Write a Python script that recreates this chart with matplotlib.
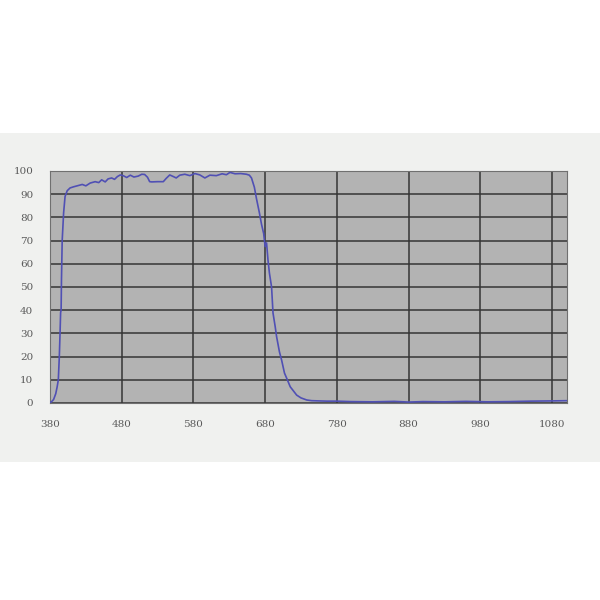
import numpy as np
import matplotlib.pyplot as plt

# transmission curve (wavelength in nm, %)
wavelength = [380, 382, 385, 388, 390, 391.6, 393, 394, 394.8, 395.5, 396, 397,
              399, 401, 404, 408, 413, 419, 425, 430, 436, 443, 448, 452, 457,
              461, 466, 470, 474, 478, 482, 487, 492, 497, 503, 508, 512, 516,
              519, 522, 530, 538, 542, 547, 552, 556, 561, 568, 575, 582, 589,
              596, 603, 612, 620, 626, 631, 638, 646, 654, 658, 661, 665, 668,
              672, 675, 678, 680, 682, 684, 686, 689, 691, 694, 696, 700, 703,
              707, 711, 715, 720, 724, 730, 738, 745, 755, 766, 780, 800, 830,
              860, 880, 900, 930, 960, 990, 1020, 1050, 1080, 1100]
transmission = [0.3, 0.5, 1.5, 4, 7, 10, 20, 30, 39, 40, 53, 70, 82, 89, 91.5,
                92.7, 93.2, 93.7, 94.2, 93.6, 94.8, 95.4, 95.0, 96.2, 95.3, 96.6,
                97.0, 96.4, 97.6, 98.3, 98.0, 97.2, 98.2, 97.4, 97.8, 98.6, 98.5,
                97.3, 95.4, 95.3, 95.4, 95.4, 96.8, 98.3, 97.6, 97.0, 98.2, 98.6,
                98.0, 98.9, 98.3, 97.0, 98.2, 98.0, 98.8, 98.4, 99.4, 98.8, 98.9,
                98.6, 98.2, 97.0, 93, 88, 82, 77, 73, 67.4, 69, 61.6, 56, 50,
                38.8, 33, 28.6, 22, 18.5, 12.9, 10, 7, 5, 3.4, 2.2, 1.3, 1.0, 0.9,
                0.8, 0.8, 0.6, 0.5, 0.7, 0.4, 0.6, 0.5, 0.7, 0.5, 0.6, 0.8, 0.9, 1.0]

xticks = [380, 480, 580, 680, 780, 880, 980, 1080]
yticks = [0, 10, 20, 30, 40, 50, 60, 70, 80, 90, 100]

fig = plt.figure(figsize=(6, 6), dpi=100)
fig.patch.set_facecolor('white')

# light panel behind the chart
panel = plt.Rectangle((0, (600 - 462)/600), 1, (462 - 133)/600,
                      transform=fig.transFigure, facecolor='#f0f1ef',
                      edgecolor='none', zorder=-10)
fig.add_artist(panel)

ax = fig.add_axes([50/600, (600 - 403)/600, 517/600, 232/600])
ax.set_zorder(1)
ax.set_facecolor('#b3b3b3')

ax.plot(wavelength, transmission, color='#5050b4', linewidth=1.2, zorder=3)

ax.set_xlim(380, 1101)
ax.set_ylim(0, 100)
ax.set_xticks(xticks)
ax.set_yticks(yticks)
ax.grid(True, color='#353535', linewidth=1.1)
ax.set_axisbelow(True)
ax.tick_params(length=0, labelsize=7.5, labelcolor='#5a5a5a')
ax.tick_params(axis='x', pad=12)
ax.tick_params(axis='y', pad=12)
for lab in ax.get_xticklabels() + ax.get_yticklabels():
    lab.set_family('DejaVu Serif')
for s in ax.spines.values():
    s.set_color('#707070')
    s.set_linewidth(0.8)

fig.savefig('out.png', dpi=100)
